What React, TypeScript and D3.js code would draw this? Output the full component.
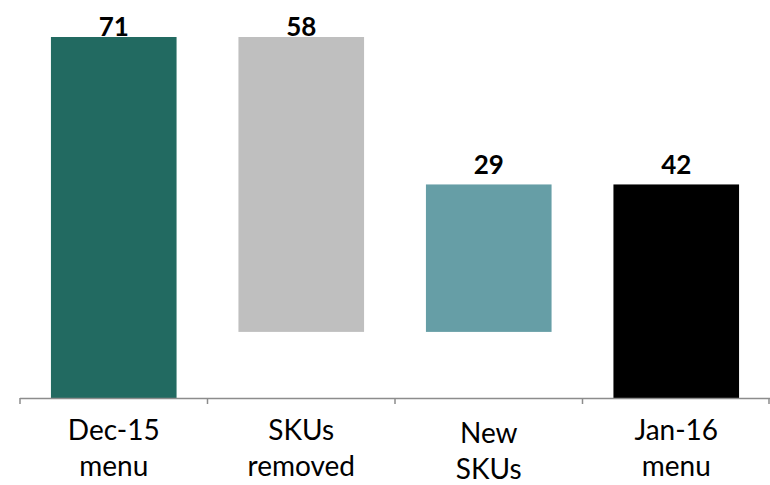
import React from "react";
import * as d3 from "d3";

// Menu SKU bridge: Dec-15 count, removals, additions, Jan-16 count
const categories: string[][] = [
  ["Dec-15", "menu"],
  ["SKUs", "removed"],
  ["New", "SKUs"],
  ["Jan-16", "menu"],
];
const values: number[] = [71, 58, 29, 42];
// bar spans [start, end] in SKU units
const starts: number[] = [0, 13, 13, 0];
const ends: number[] = [71, 71, 42, 42];
const colors: string[] = ["#226a61", "#bfbfbf", "#669ea6", "#000000"];

const W = 770;
const H = 485;
const left = 20;
const right = 770;
const baseY = 398;
const topY = 37;

export default function App() {
  const x = d3
    .scaleBand<number>()
    .domain(d3.range(categories.length))
    .range([left, right])
    .paddingInner(0.33)
    .paddingOuter(0.165);
  const y = d3.scaleLinear().domain([0, 71]).range([baseY, topY]);
  const step = (right - left) / categories.length;
  const ticks = d3.range(categories.length + 1).map((i) => left + i * step);
  const font = "Lato, 'Open Sans', sans-serif";

  return (
    <svg
      width={W}
      height={H}
      style={{ position: "absolute", left: 0, top: 0, background: "#fff" }}
    >
      {values.map((v, i) => {
        const yTop = y(ends[i]);
        const yBot = y(starts[i]);
        const cx = (x(i) as number) + x.bandwidth() / 2;
        const ly = Math.max(yTop - 10, 36);
        return (
          <g key={i}>
            <rect
              x={x(i)}
              y={yTop}
              width={x.bandwidth()}
              height={yBot - yTop}
              fill={colors[i]}
            />
            <text
              x={cx}
              y={ly}
              textAnchor="middle"
              fontFamily={font}
              fontWeight="bold"
              fontSize={26}
              fill="#000"
            >
              {v}
            </text>
          </g>
        );
      })}
      <line
        x1={left}
        x2={right}
        y1={baseY + 0.5}
        y2={baseY + 0.5}
        stroke="#8c8c8c"
        strokeWidth={1.5}
      />
      {ticks.map((t, i) => (
        <line
          key={i}
          x1={Math.min(t, right - 1)}
          x2={Math.min(t, right - 1)}
          y1={baseY}
          y2={baseY + 6}
          stroke="#8c8c8c"
          strokeWidth={1.5}
        />
      ))}
      {categories.map((lines, i) => {
        const cx = (x(i) as number) + x.bandwidth() / 2;
        const y0 = i === 2 ? 443 : 440;
        return (
          <text
            key={i}
            textAnchor="middle"
            fontFamily={font}
            fontSize={28}
            fill="#000"
          >
            {lines.map((l, j) => (
              <tspan key={j} x={cx} y={y0 + j * 36}>
                {l}
              </tspan>
            ))}
          </text>
        );
      })}
    </svg>
  );
}
